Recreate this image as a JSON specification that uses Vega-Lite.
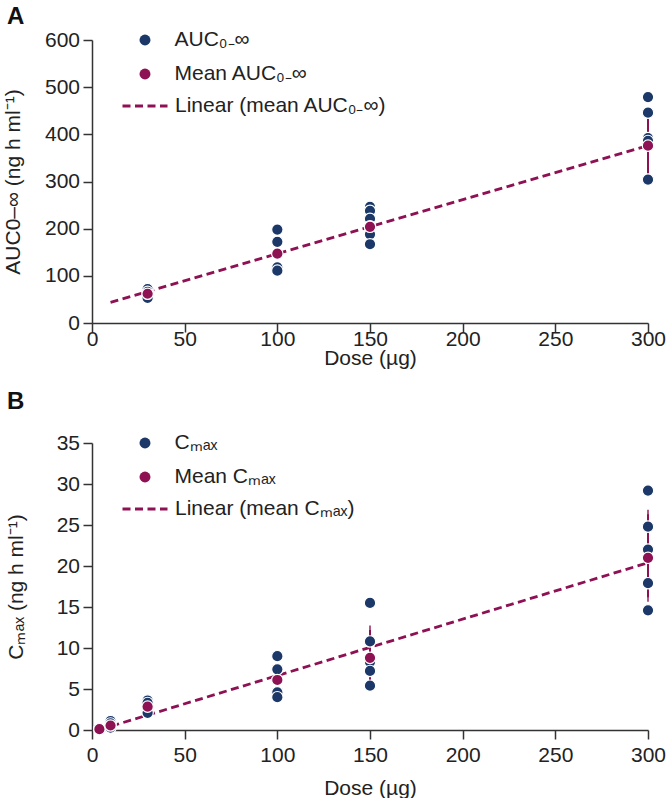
{
  "$schema": "https://vega.github.io/schema/vega-lite/v6.json",
  "background": "white",
  "padding": {"left": 2, "top": 5, "right": 0, "bottom": 0},
  "config": {
    "font": "Liberation Sans",
    "view": {"stroke": null},
    "axis": {"grid": false, "domainColor": "#333", "tickColor": "#333", "domainWidth": 1.5, "tickWidth": 1.5, "tickSize": 9, "labelFontSize": 21, "labelColor": "#222", "titleFontSize": 21, "titleFontWeight": "normal", "titleColor": "#222", "labelFont": "Liberation Sans", "titleFont": "Liberation Sans", "labelFlush": false},
    "legend": {"labelFontSize": 21, "labelColor": "#222", "labelFont": "Liberation Sans", "padding": 0, "rowPadding": 12, "labelLimit": 400},
    "title": {"fontSize": 24, "fontWeight": "bold", "anchor": "start", "frame": "group", "color": "#111", "font": "Liberation Sans"}
  },
  "spacing": 22,
  "resolve": {"scale": {"color": "independent", "strokeDash": "independent"}, "legend": {"color": "independent", "strokeDash": "independent"}},
  "vconcat": [
    {
      "title": {"text": "A", "dx": -85, "offset": 0},
      "width": 556,
      "height": 283,
      "data": {"values": [
        {"kind": "pt", "series": "AUC₀₋∞", "dose": 30, "value": 72},
        {"kind": "pt", "series": "AUC₀₋∞", "dose": 30, "value": 66},
        {"kind": "pt", "series": "AUC₀₋∞", "dose": 30, "value": 57},
        {"kind": "pt", "series": "AUC₀₋∞", "dose": 30, "value": 53},
        {"kind": "pt", "series": "AUC₀₋∞", "dose": 100, "value": 198},
        {"kind": "pt", "series": "AUC₀₋∞", "dose": 100, "value": 172},
        {"kind": "pt", "series": "AUC₀₋∞", "dose": 100, "value": 118},
        {"kind": "pt", "series": "AUC₀₋∞", "dose": 100, "value": 111},
        {"kind": "pt", "series": "AUC₀₋∞", "dose": 150, "value": 246},
        {"kind": "pt", "series": "AUC₀₋∞", "dose": 150, "value": 238},
        {"kind": "pt", "series": "AUC₀₋∞", "dose": 150, "value": 221},
        {"kind": "pt", "series": "AUC₀₋∞", "dose": 150, "value": 205},
        {"kind": "pt", "series": "AUC₀₋∞", "dose": 150, "value": 188},
        {"kind": "pt", "series": "AUC₀₋∞", "dose": 150, "value": 167},
        {"kind": "pt", "series": "AUC₀₋∞", "dose": 300, "value": 479},
        {"kind": "pt", "series": "AUC₀₋∞", "dose": 300, "value": 446},
        {"kind": "pt", "series": "AUC₀₋∞", "dose": 300, "value": 392},
        {"kind": "pt", "series": "AUC₀₋∞", "dose": 300, "value": 386},
        {"kind": "pt", "series": "AUC₀₋∞", "dose": 300, "value": 304},
        {"kind": "mean", "series": "Mean AUC₀₋∞", "dose": 30, "value": 62},
        {"kind": "mean", "series": "Mean AUC₀₋∞", "dose": 100, "value": 147},
        {"kind": "mean", "series": "Mean AUC₀₋∞", "dose": 150, "value": 204},
        {"kind": "mean", "series": "Mean AUC₀₋∞", "dose": 300, "value": 376},
        {"kind": "err", "dose": 300, "value": 318, "value2": 433},
        {"kind": "fit", "series": "Linear (mean AUC₀₋∞)", "dose": 10, "value": 43.6},
        {"kind": "fit", "series": "Linear (mean AUC₀₋∞)", "dose": 300, "value": 376}
      ]},
      "encoding": {
        "x": {"field": "dose", "type": "quantitative", "scale": {"domain": [0, 300]}, "axis": {"values": [0, 50, 100, 150, 200, 250, 300], "title": "Dose (µg)", "labelPadding": -4, "titlePadding": -2}},
        "y": {"field": "value", "type": "quantitative", "scale": {"domain": [0, 600]}, "axis": {"values": [0, 100, 200, 300, 400, 500, 600], "title": "AUC0–∞ (ng h ml⁻¹)", "labelPadding": 3.5, "titlePadding": 21}}
      },
      "layer": [
        {"transform": [{"filter": "datum.kind === 'err'"}], "mark": {"type": "rule", "color": "#8d1153", "strokeWidth": 2}, "encoding": {"y2": {"field": "value2"}}},
        {"transform": [{"filter": "datum.kind === 'err'"}], "mark": {"type": "tick", "color": "#8d1153", "thickness": 2, "size": 9}},
        {"transform": [{"filter": "datum.kind === 'err'"}], "mark": {"type": "tick", "color": "#8d1153", "thickness": 2, "size": 9}, "encoding": {"y": {"field": "value2", "type": "quantitative"}}},
        {"transform": [{"filter": "datum.kind === 'fit'"}], "mark": {"type": "line", "color": "#8d1153", "strokeWidth": 2.8},
          "encoding": {"strokeDash": {"field": "series", "type": "nominal", "scale": {"range": [[8, 4.5]]},
            "legend": {"title": null, "orient": "none", "legendX": 29, "legendY": 42, "symbolType": "stroke", "symbolSize": 2025, "symbolStrokeWidth": 2.8, "symbolStrokeColor": "#8d1153", "labelOffset": 6}}}},
        {"transform": [{"filter": "datum.kind === 'pt'"}], "mark": {"type": "point", "filled": true, "opacity": 1, "size": 130, "stroke": "white", "strokeWidth": 1.2},
          "encoding": {"color": {"field": "series", "type": "nominal", "scale": {"domain": ["AUC₀₋∞", "Mean AUC₀₋∞"], "range": ["#1b3868", "#8d1153"]},
            "legend": {"title": null, "orient": "none", "legendX": 42.5, "legendY": -10.5, "symbolType": "circle", "symbolSize": 120, "symbolStrokeWidth": 0, "labelOffset": 19}}}},
        {"transform": [{"filter": "datum.kind === 'mean'"}], "mark": {"type": "point", "filled": true, "opacity": 1, "size": 130, "stroke": "white", "strokeWidth": 1.2},
          "encoding": {"color": {"field": "series", "type": "nominal"}}}
      ]
    },
    {
      "title": {"text": "B", "dx": -85, "offset": 18},
      "width": 556,
      "height": 287,
      "data": {"values": [
        {"kind": "pt", "series": "Cₘₐₓ", "dose": 4, "value": 0.15},
        {"kind": "pt", "series": "Cₘₐₓ", "dose": 4, "value": 0.05},
        {"kind": "pt", "series": "Cₘₐₓ", "dose": 10, "value": 1.1},
        {"kind": "pt", "series": "Cₘₐₓ", "dose": 10, "value": 0.8},
        {"kind": "pt", "series": "Cₘₐₓ", "dose": 10, "value": 0.3},
        {"kind": "pt", "series": "Cₘₐₓ", "dose": 30, "value": 3.6},
        {"kind": "pt", "series": "Cₘₐₓ", "dose": 30, "value": 3.3},
        {"kind": "pt", "series": "Cₘₐₓ", "dose": 30, "value": 2.4},
        {"kind": "pt", "series": "Cₘₐₓ", "dose": 30, "value": 2.1},
        {"kind": "pt", "series": "Cₘₐₓ", "dose": 100, "value": 9.0},
        {"kind": "pt", "series": "Cₘₐₓ", "dose": 100, "value": 7.4},
        {"kind": "pt", "series": "Cₘₐₓ", "dose": 100, "value": 4.6},
        {"kind": "pt", "series": "Cₘₐₓ", "dose": 100, "value": 4.0},
        {"kind": "pt", "series": "Cₘₐₓ", "dose": 150, "value": 15.5},
        {"kind": "pt", "series": "Cₘₐₓ", "dose": 150, "value": 10.8},
        {"kind": "pt", "series": "Cₘₐₓ", "dose": 150, "value": 8.3},
        {"kind": "pt", "series": "Cₘₐₓ", "dose": 150, "value": 7.2},
        {"kind": "pt", "series": "Cₘₐₓ", "dose": 150, "value": 5.4},
        {"kind": "pt", "series": "Cₘₐₓ", "dose": 300, "value": 29.2},
        {"kind": "pt", "series": "Cₘₐₓ", "dose": 300, "value": 24.8},
        {"kind": "pt", "series": "Cₘₐₓ", "dose": 300, "value": 22.0},
        {"kind": "pt", "series": "Cₘₐₓ", "dose": 300, "value": 17.9},
        {"kind": "pt", "series": "Cₘₐₓ", "dose": 300, "value": 14.6},
        {"kind": "mean", "series": "Mean Cₘₐₓ", "dose": 4, "value": 0.1},
        {"kind": "mean", "series": "Mean Cₘₐₓ", "dose": 10, "value": 0.55},
        {"kind": "mean", "series": "Mean Cₘₐₓ", "dose": 30, "value": 2.85},
        {"kind": "mean", "series": "Mean Cₘₐₓ", "dose": 100, "value": 6.1},
        {"kind": "mean", "series": "Mean Cₘₐₓ", "dose": 150, "value": 8.8},
        {"kind": "mean", "series": "Mean Cₘₐₓ", "dose": 300, "value": 21.0},
        {"kind": "err", "dose": 150, "value": 5.4, "value2": 12.2},
        {"kind": "err", "dose": 300, "value": 16.2, "value2": 26.3},
        {"kind": "fit", "series": "Linear (mean Cₘₐₓ)", "dose": 4, "value": 0.03},
        {"kind": "fit", "series": "Linear (mean Cₘₐₓ)", "dose": 300, "value": 20.4}
      ]},
      "encoding": {
        "x": {"field": "dose", "type": "quantitative", "scale": {"domain": [0, 300]}, "axis": {"values": [0, 50, 100, 150, 200, 250, 300], "title": "Dose (µg)", "labelPadding": 5, "titlePadding": 12}},
        "y": {"field": "value", "type": "quantitative", "scale": {"domain": [0, 35]}, "axis": {"values": [0, 5, 10, 15, 20, 25, 30, 35], "title": "Cₘₐₓ (ng h ml⁻¹)", "labelPadding": 3.5, "titlePadding": 30}}
      },
      "layer": [
        {"transform": [{"filter": "datum.kind === 'err'"}], "mark": {"type": "rule", "color": "#8d1153", "strokeWidth": 2}, "encoding": {"y2": {"field": "value2"}}},
        {"transform": [{"filter": "datum.kind === 'err'"}], "mark": {"type": "tick", "color": "#8d1153", "thickness": 2, "size": 9}},
        {"transform": [{"filter": "datum.kind === 'err'"}], "mark": {"type": "tick", "color": "#8d1153", "thickness": 2, "size": 9}, "encoding": {"y": {"field": "value2", "type": "quantitative"}}},
        {"transform": [{"filter": "datum.kind === 'fit'"}], "mark": {"type": "line", "color": "#8d1153", "strokeWidth": 2.8},
          "encoding": {"strokeDash": {"field": "series", "type": "nominal", "scale": {"range": [[8, 4.5]]},
            "legend": {"title": null, "orient": "none", "legendX": 29, "legendY": 42, "symbolType": "stroke", "symbolSize": 2025, "symbolStrokeWidth": 2.8, "symbolStrokeColor": "#8d1153", "labelOffset": 6}}}},
        {"transform": [{"filter": "datum.kind === 'pt'"}], "mark": {"type": "point", "filled": true, "opacity": 1, "size": 130, "stroke": "white", "strokeWidth": 1.2},
          "encoding": {"color": {"field": "series", "type": "nominal", "scale": {"domain": ["Cₘₐₓ", "Mean Cₘₐₓ"], "range": ["#1b3868", "#8d1153"]},
            "legend": {"title": null, "orient": "none", "legendX": 42.5, "legendY": -10.5, "symbolType": "circle", "symbolSize": 120, "symbolStrokeWidth": 0, "labelOffset": 19}}}},
        {"transform": [{"filter": "datum.kind === 'mean'"}], "mark": {"type": "point", "filled": true, "opacity": 1, "size": 130, "stroke": "white", "strokeWidth": 1.2},
          "encoding": {"color": {"field": "series", "type": "nominal"}}}
      ]
    }
  ]
}
